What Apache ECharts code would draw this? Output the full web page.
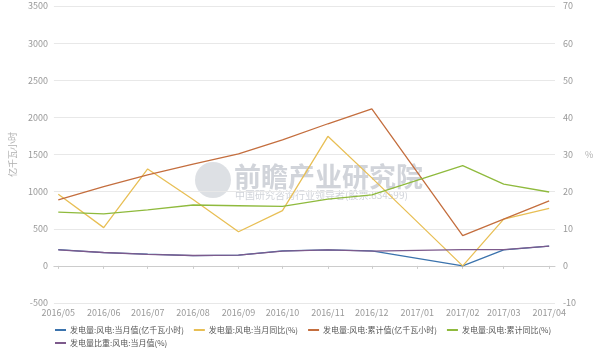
<!DOCTYPE html>
<html>
<head>
<meta charset="utf-8">
<script src="https://cdn.jsdelivr.net/npm/echarts@6/dist/echarts.min.js"></script>
<style>html,body{margin:0;padding:0;background:#fff}#c{width:600px;height:360px}</style>
</head>
<body>
<div id="c"></div>
<script>
var months = ['2016-05-01','2016-06-01','2016-07-01','2016-08-01','2016-09-01','2016-10-01','2016-11-01','2016-12-01','2017-01-01','2017-02-01','2017-03-01','2017-04-01'];
var monthlyOutput = [220, 179, 157, 139, 144, 202, 215, 202, null, 0, 215, 265];
var monthlyYoY = [19.3, 10.3, 26.1, 17.9, 9.2, 14.9, 34.9, 23.7, null, 0, 12.6, 15.5];
var cumulativeOutput = [888, 1067, 1225, 1369, 1508, 1696, 1914, 2113, null, 408, 629, 875];
var cumulativeYoY = [14.5, 14.0, 15.1, 16.4, 16.2, 16.0, 18.0, 19.1, null, 27.0, 22.0, 19.9];
var shareMonthly = [4.3, 3.6, 3.1, 2.8, 2.9, 4.0, 4.3, 4.0, null, 4.4, 4.4, 5.3];
var leftTicks = {min: -500, max: 3500, interval: 500};
var rightTicks = {min: -10, max: 70, interval: 10};
var names = ['发电量:风电:当月值(亿千瓦小时)','发电量:风电:当月同比(%)','发电量:风电:累计值(亿千瓦小时)','发电量:风电:累计同比(%)','发电量比重:风电:当月值(%)'];
var colors = ['#3b73ad','#e8bf55','#c46e3e','#8fba3d','#7d5a8c'];

function pairs(vals){ return months.map(function(m,i){ return [m, vals[i]]; }); }
var seriesVals = [monthlyOutput, monthlyYoY, cumulativeOutput, cumulativeYoY, shareMonthly];
var axisIdx = [0, 1, 0, 1, 1];

var chart = echarts.init(document.getElementById('c'));
var font = '"Noto Sans CJK SC", "Noto Sans", sans-serif';
chart.setOption({
  animation: false,
  textStyle: {fontFamily: font},
  color: colors,
  grid: {left: 48, right: 45, top: 6, bottom: 57},
  graphic: [
    {type: 'circle', shape: {cx: 213, cy: 180, r: 18}, style: {fill: '#d5d8dd', opacity: 0.8}, z: 0},
    {type: 'text', left: 234, top: 163, style: {text: '前瞻产业研究院', fill: '#c9cdd3', font: 'bold 27px ' + font, opacity: 0.85}, z: 0},
    {type: 'text', left: 235, top: 190, style: {text: '中国研究咨询行业领导者(股票:834599)', fill: '#c9cdd3', font: '10px ' + font, opacity: 0.85}, z: 0}
  ],
  legend: [
    {left: 55, top: 326, padding: 0, itemGap: 10, itemWidth: 11, itemHeight: 2, icon: 'rect',
     data: names.slice(0, 4), textStyle: {fontSize: 8, color: '#555', padding: [0,0,0,-1]}},
    {left: 55, top: 339, padding: 0, itemGap: 10, itemWidth: 11, itemHeight: 2, icon: 'rect',
     data: names.slice(4), textStyle: {fontSize: 8, color: '#555', padding: [0,0,0,-1]}}
  ],
  xAxis: {
    type: 'time',
    min: '2016-04-28',
    max: '2017-04-05',
    splitNumber: 12,
    minInterval: 28 * 86400000,
    maxInterval: 31 * 86400000,
    axisLine: {lineStyle: {color: '#ccc'}},
    axisTick: {show: true, length: 3, lineStyle: {color: '#ccc'}},
    splitLine: {show: false},
    axisLabel: {formatter: '{yyyy}/{MM}', color: '#999', fontSize: 9, margin: 5, hideOverlap: false}
  },
  yAxis: [
    {type: 'value', min: leftTicks.min, max: leftTicks.max, interval: leftTicks.interval,
     name: '亿千瓦小时', nameLocation: 'middle', nameGap: 34, nameRotate: 90,
     nameTextStyle: {color: '#b0b0b0', fontSize: 9},
     axisLine: {show: false}, axisTick: {show: false},
     axisLabel: {color: '#999', fontSize: 9, margin: 6, formatter: function(v){ return String(v); }},
     splitLine: {lineStyle: {color: '#e8e8e8'}}},
    {type: 'value', min: rightTicks.min, max: rightTicks.max, interval: rightTicks.interval,
     name: '%', nameLocation: 'middle', nameGap: 30, nameRotate: 0,
     nameTextStyle: {color: '#b0b0b0', fontSize: 9},
     axisLine: {show: false}, axisTick: {show: false},
     axisLabel: {color: '#999', fontSize: 9, margin: 8, formatter: function(v){ return String(v); }},
     splitLine: {show: false}}
  ],
  series: names.map(function(n, i){
    return {name: n, type: 'line', yAxisIndex: axisIdx[i], data: pairs(seriesVals[i]),
      showSymbol: false, symbol: 'none', connectNulls: true,
      lineStyle: {width: 1.3, color: colors[i]}, itemStyle: {color: colors[i]}, z: 3};
  })
});
</script>
</body>
</html>
